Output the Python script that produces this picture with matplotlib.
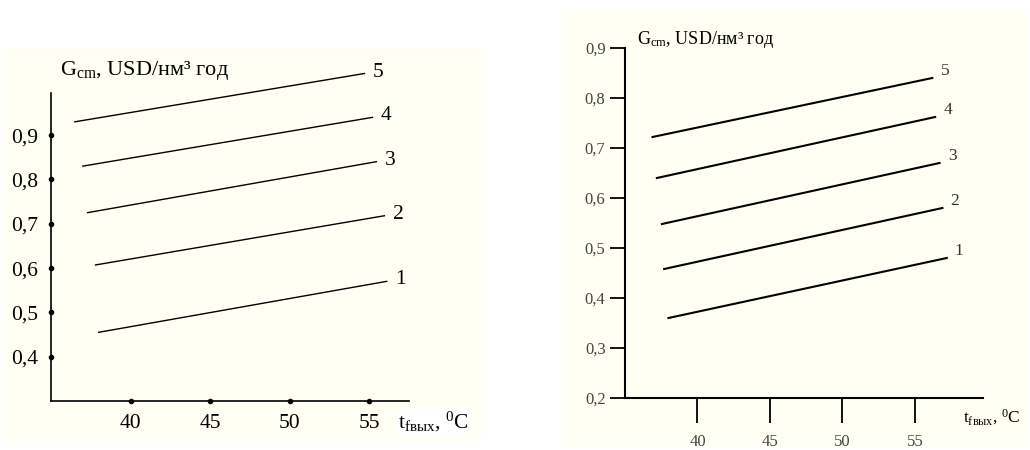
import matplotlib
matplotlib.use("Agg")
from matplotlib import pyplot as plt
from matplotlib.patches import Rectangle

plt.rcParams["font.family"] = ["Liberation Serif", "DejaVu Serif"]
plt.rcParams["mathtext.fontset"] = "custom"
plt.rcParams["mathtext.rm"] = "Liberation Serif"
plt.rcParams["mathtext.it"] = "Liberation Serif:italic"

# curve labels (1..5), each curve is a straight line: start and end points
curve_names = ["1", "2", "3", "4", "5"]

# left chart
left_t = [[38.0, 56.1], [37.8, 55.95], [37.3, 55.45], [37.0, 55.2], [36.5, 54.7]]
left_g = [[0.455, 0.57], [0.607, 0.718], [0.725, 0.84], [0.83, 0.94], [0.93, 1.039]]
left_xticks = [40, 45, 50, 55]
left_yticks = [0.4, 0.5, 0.6, 0.7, 0.8, 0.9]

# right chart
right_t = [[38.0, 57.2], [37.7, 56.9], [37.55, 56.7], [37.2, 56.4], [36.9, 56.2]]
right_g = [[0.36, 0.48], [0.458, 0.58], [0.548, 0.67], [0.64, 0.762], [0.722, 0.84]]
right_xticks = [40, 45, 50, 55]
right_yticks = [0.2, 0.3, 0.4, 0.5, 0.6, 0.7, 0.8, 0.9]

Y_LABEL = "G$_{\\mathrm{cm}}$, USD/нм³ год"
X_LABEL = "t$_{\\mathrm{fвых}}$, $^{0}$C"
CREAM = "#fffff3"
W, H = 1030, 450


def comma(v, fmt="{:.1f}"):
    return fmt.format(v).replace(".", ",")


def px_box(x0, y0, x1, y1):
    # pixel box (top-left origin) -> figure fraction rect
    return [x0 / W, 1 - y1 / H, (x1 - x0) / W, (y1 - y0) / H]


fig = plt.figure(figsize=(W / 100, H / 100), dpi=100)
fig.patch.set_facecolor("white")

# cream backgrounds of the two scanned panels
for box in (px_box(3, 49, 480, 440), px_box(563, 10, 1025, 445)):
    fig.add_artist(Rectangle((box[0], box[1]), box[2], box[3],
                             transform=fig.transFigure, color=CREAM, zorder=0))

# ---------- left chart ----------
ax1 = fig.add_axes(px_box(51, 93, 409, 401))
ax1.set_facecolor("none")
for t, g in zip(left_t, left_g):
    ax1.plot(t, g, color="black", lw=1.0, clip_on=False)
for name, t, g in zip(curve_names, left_t, left_g):
    ax1.annotate(name, (t[1], g[1]), xytext=(6, 1), textcoords="offset points",
                 ha="left", va="center", fontsize=15.5, annotation_clip=False)
ax1.set_xlim(35, 57.5)
ax1.set_ylim(0.3, 0.995)
for s in ("top", "right"):
    ax1.spines[s].set_visible(False)
ax1.spines["left"].set_linewidth(1.2)
ax1.spines["bottom"].set_linewidth(1.2)
ax1.set_xticks(left_xticks)
ax1.set_xticklabels([str(v) for v in left_xticks])
ax1.set_yticks(left_yticks)
ax1.set_yticklabels([comma(v) for v in left_yticks])
ax1.tick_params(length=0, labelsize=15.5, pad=9)
ax1.plot(left_xticks, [0.3] * len(left_xticks), "ko", ms=3, clip_on=False)
ax1.plot([35] * len(left_yticks), left_yticks, "ko", ms=3, clip_on=False)
fig.text(60 / W, 1 - 70 / H, Y_LABEL, fontsize=16, va="center", ha="left")
fig.text(398 / W, 1 - 422 / H, X_LABEL, fontsize=15.5, va="center", ha="left",
         bbox=dict(facecolor="white", edgecolor="none", pad=1))

# ---------- right chart ----------
ax2 = fig.add_axes(px_box(625, 48, 983, 398))
ax2.set_facecolor("none")
for t, g in zip(right_t, right_g):
    ax2.plot(t, g, color="black", lw=1.5)
for name, t, g in zip(curve_names, right_t, right_g):
    ax2.annotate(name, (t[1], g[1]), xytext=(9, 5), textcoords="offset points",
                 ha="center", va="center", fontsize=12.5, color="#333333",
                 annotation_clip=False)
ax2.set_xlim(35, 59.7)
ax2.set_ylim(0.2, 0.9)
for s in ("top", "right"):
    ax2.spines[s].set_visible(False)
ax2.spines["left"].set_linewidth(1.5)
ax2.spines["bottom"].set_linewidth(1.5)
ax2.set_xticks(right_xticks)
ax2.set_xticklabels([str(v) for v in right_xticks])
ax2.set_yticks(right_yticks)
ax2.set_yticklabels([comma(v) for v in right_yticks])
ax2.tick_params(axis="x", length=18, width=1.3, labelsize=12, pad=8,
                labelcolor="#444444")
ax2.tick_params(axis="y", length=11, width=1.3, labelsize=12, pad=3,
                labelcolor="#444444")
fig.text(637 / W, 1 - 40 / H, Y_LABEL, fontsize=13, va="center", ha="left")
fig.text(963 / W, 1 - 417 / H, X_LABEL, fontsize=12.5, va="center", ha="left")

fig.savefig("out.png", dpi=100)
